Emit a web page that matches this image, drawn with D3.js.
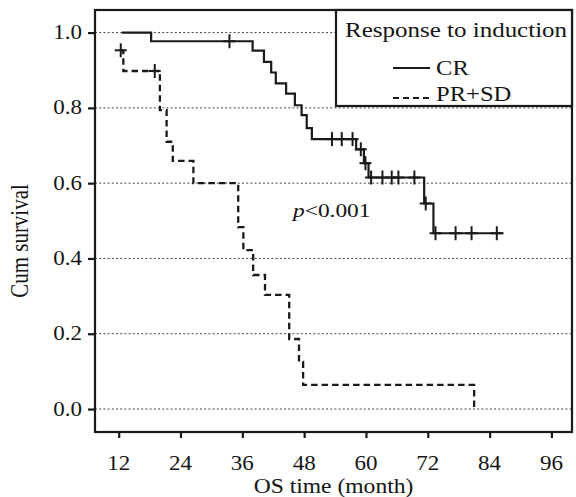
<!DOCTYPE html>
<html>
<head>
<meta charset="utf-8">
<script src="https://cdn.jsdelivr.net/npm/d3@7"></script>
<style>
  html, body { margin: 0; padding: 0; background: #fff; }
  svg { display: block; }
  text { font-family: "Liberation Serif", "Times New Roman", Times, serif; fill: #151515; }
</style>
</head>
<body>
<svg id="chart" width="576" height="497"></svg>
<script>
// ---- data ----
const xTicks = [12, 24, 36, 48, 60, 72, 84, 96];
const yTicks = [0.0, 0.2, 0.4, 0.6, 0.8, 1.0];

// CR (solid): step times and survival level after each step (last = end of follow-up)
const crTimes = [12.6, 18.3, 38.0, 40.2, 41.6, 42.5, 44.5, 46.2, 47.5, 48.5, 49.5, 58.1, 59.6, 60.5, 71.3, 73.1, 86.7];
const crSurv  = [1.000, 0.977, 0.952, 0.922, 0.894, 0.865, 0.838, 0.807, 0.781, 0.746, 0.717, 0.690, 0.653, 0.615, 0.546, 0.467, 0.467];
const crCensor = [33.5, 53.4, 55.3, 57.4, 59.0, 59.9, 61.0, 63.2, 65.0, 66.3, 69.4, 71.6, 73.5, 77.4, 80.5, 85.4];

// PR+SD (dashed)
const prTimes = [12.4, 12.9, 20.0, 21.3, 22.5, 26.5, 35.2, 36.2, 38.1, 40.4, 45.1, 47.0, 47.8, 81.0];
const prSurv  = [0.953, 0.898, 0.794, 0.710, 0.659, 0.600, 0.483, 0.422, 0.356, 0.303, 0.186, 0.125, 0.064, 0.000];
const prCensor = [12.4, 19.0];

const legendTitle = "Response to induction";
const seriesNames = ["CR", "PR+SD"];
const xTitle = "OS time (month)";
const yTitle = "Cum survival";

// ---- layout ----
const svg = d3.select("#chart");
const L = 95, R = 572, T = 10, B = 432;

const x = d3.scaleLinear().domain([7.4, 99.9]).range([L, R - 0.5]);
const y = d3.scaleLinear().domain([-0.061, 1.06]).range([B, T]);

function stepAt(times, surv, t) {
  let s = surv[0];
  for (let i = 0; i < times.length; i++) { if (times[i] <= t) s = surv[i]; }
  return s;
}

function sText(g, x0, y0, str, size, anchor, sx) {
  return g.append("text")
    .attr("transform", `translate(${x0},${y0}) scale(${sx || 1.15},1)`)
    .attr("font-size", size)
    .attr("text-anchor", anchor || "start")
    .text(str);
}

// gridlines
svg.append("g").selectAll("line").data(yTicks).join("line")
  .attr("x1", L).attr("x2", R)
  .attr("y1", d => y(d)).attr("y2", d => y(d))
  .attr("stroke", "#444").attr("stroke-width", 1)
  .attr("stroke-dasharray", "2,2.2");

// axes via d3
const yAxis = d3.axisLeft(y).tickValues(yTicks).tickSize(7).tickFormat("");
const xAxis = d3.axisBottom(x).tickValues(xTicks).tickSize(6).tickFormat("");
const gy = svg.append("g").attr("transform", `translate(${L},0)`).call(yAxis);
const gx = svg.append("g").attr("transform", `translate(0,${B})`).call(xAxis);
[gy, gx].forEach(g => {
  g.select(".domain").remove();
  g.selectAll(".tick line").attr("stroke", "#1a1a1a").attr("stroke-width", 2.2);
});

// tick labels
const labs = svg.append("g");
yTicks.forEach(v => sText(labs, 82, y(v) + 6.5, d3.format(".1f")(v), 20, "end"));
xTicks.forEach(v => sText(labs, x(v), 470, String(v), 20, "middle"));

// axis titles
sText(labs, (L + R) / 2, 493, xTitle, 20.5, "middle");
svg.append("text")
  .attr("transform", `translate(28,241) scale(1.15,1) rotate(-90)`)
  .attr("font-size", 21).attr("text-anchor", "middle").text(yTitle);

// curves
const line = d3.line().x(d => x(d[0])).y(d => y(d[1])).curve(d3.curveStepAfter);
const crPts = crTimes.map((t, i) => [t, crSurv[i]]);
const prPts = prTimes.map((t, i) => [t, prSurv[i]]);

svg.append("path").datum(crPts).attr("d", line)
  .attr("fill", "none").attr("stroke", "#1a1a1a").attr("stroke-width", 2.2);
svg.append("path").datum(prPts).attr("d", line)
  .attr("fill", "none").attr("stroke", "#1a1a1a").attr("stroke-width", 2.3)
  .attr("stroke-dasharray", "6.5,4");

// censor marks
function crosses(times, tt, ss) {
  const g = svg.append("g").attr("stroke", "#1a1a1a").attr("stroke-width", 2);
  times.forEach(t => {
    const cx = x(t), cy = y(stepAt(tt, ss, t));
    g.append("line").attr("x1", cx).attr("x2", cx).attr("y1", cy - 7).attr("y2", cy + 7);
    g.append("line").attr("x1", cx - 6).attr("x2", cx + 6).attr("y1", cy).attr("y2", cy);
  });
}
crosses(crCensor, crTimes, crSurv);
crosses(prCensor, prTimes, prSurv);

// p-value
const pt = svg.append("text")
  .attr("transform", `translate(293,217) scale(1.2,1)`)
  .attr("font-size", 19.5);
pt.append("tspan").attr("font-style", "italic").text("p");
pt.append("tspan").text("<0.001");

// frame
svg.append("rect").attr("x", L).attr("y", T).attr("width", R - L).attr("height", B - T)
  .attr("fill", "none").attr("stroke", "#1a1a1a").attr("stroke-width", 2.2);

// legend
const lg = svg.append("g");
lg.append("rect").attr("x", 336).attr("y", T).attr("width", R - 336).attr("height", 96)
  .attr("fill", "#fff").attr("stroke", "#1a1a1a").attr("stroke-width", 2.2);
sText(lg, 345, 37, legendTitle, 21, "start", 1.19);
lg.append("line").attr("x1", 393).attr("x2", 430).attr("y1", 68).attr("y2", 68)
  .attr("stroke", "#1a1a1a").attr("stroke-width", 2.2);
lg.append("line").attr("x1", 393).attr("x2", 430).attr("y1", 98).attr("y2", 98)
  .attr("stroke", "#1a1a1a").attr("stroke-width", 2.2).attr("stroke-dasharray", "6,4");
sText(lg, 436, 75, seriesNames[0], 20.5, "start", 1.2);
sText(lg, 436, 101, seriesNames[1], 20.5, "start", 1.2);
</script>
</body>
</html>
